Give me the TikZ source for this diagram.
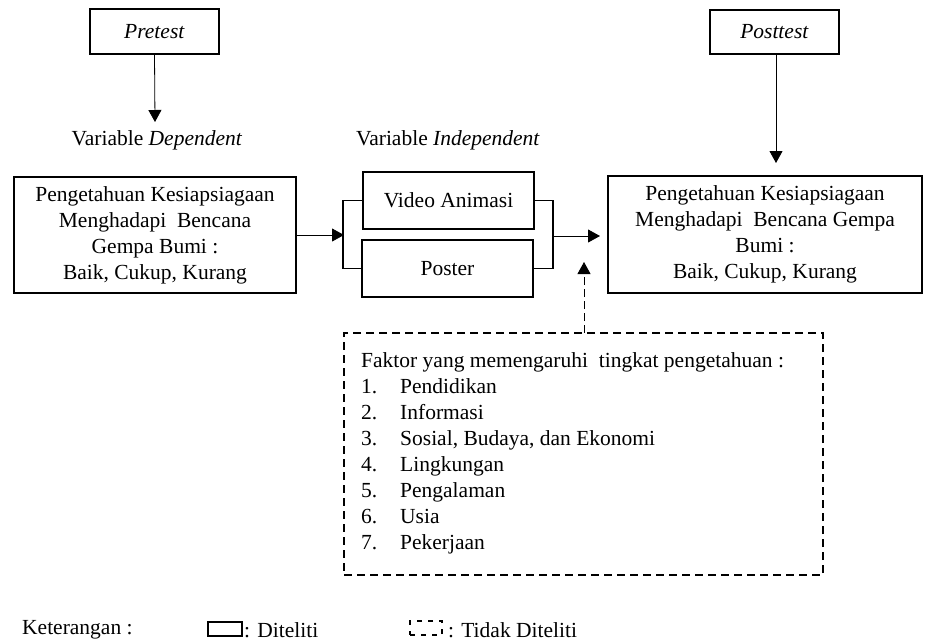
\documentclass[tikz,border=0pt]{standalone}
\usepackage{fontspec}
\setmainfont{Liberation Serif}
\usetikzlibrary{arrows.meta}
\begin{document}
\begin{tikzpicture}[x=1pt,y=-1pt,
  font=\fontsize{21.5}{26}\selectfont,
  box/.style={draw,line width=1.6pt,inner sep=0pt,align=center},
  arr/.style={line width=0.8pt,-{Triangle[length=12pt,width=13pt]}},
  darr/.style={line width=0.9pt,dash pattern=on 8pt off 4pt,-{Triangle[length=12pt,width=13pt]}},
  dbox/.style={draw,line width=1.6pt,dash pattern=on 8pt off 5pt,inner sep=0pt},
  lbl/.style={inner sep=0pt}]
\useasboundingbox (0,0) rectangle (936,641);
% top boxes
\node[box,minimum width=129pt,minimum height=45pt] (pre) at (154.5,31.5) {\textit{Pretest}};
\node[box,minimum width=129pt,minimum height=44pt] (post) at (774.5,32) {\textit{Posttest}};
% labels
\node[lbl] (dep) at (157,140) {Variable \textit{Dependent}};
\node[lbl] (ind) at (448,140) {Variable \textit{Independent}};
% main boxes
\node[box,minimum width=282pt,minimum height=116pt] (left) at (155,235)
  {Pengetahuan Kesiapsiagaan\\Menghadapi\ \ Bencana\\Gempa Bumi :\\Baik, Cukup, Kurang};
\node[box,minimum width=171pt,minimum height=57pt] (video) at (448.5,200.5) {Video Animasi};
\node[box,minimum width=171pt,minimum height=57pt] (poster) at (447.5,268.5) {Poster};
\node[box,minimum width=314pt,minimum height=117pt] (right) at (765,234.5)
  {Pengetahuan Kesiapsiagaan\\Menghadapi\ \ Bencana Gempa\\Bumi :\\Baik, Cukup, Kurang};
% brackets
\draw[line width=1.6pt] (video.west) -- ++(-19,0) |- (poster.west);
\draw[line width=1.6pt] (video.east) -- ++(18,0) |- (poster.east);
% coordinates
\coordinate (depTip) at (155,122);
\coordinate (postTip) at (776,163);
\coordinate (brL) at (344,235);
\coordinate (brR) at (553,236);
\coordinate (rIn) at (600,236);
\coordinate (dTip) at (584,262);
% arrows
\draw[arr] (pre.south) -- (depTip);
\draw[arr] (post.south -| postTip) -- (postTip);
\draw[arr] (left.east) -- (brL);
\draw[arr] (brR) -- (rIn);
% dashed factor box
\node[dbox,minimum width=479pt,minimum height=242pt] (fac) at (583.5,454) {};
\coordinate (facTop) at (584,333);
\draw[darr] (facTop) -- (dTip);
\node[lbl,anchor=north west,align=left] (factxt) at (361,352) {%
Faktor yang memengaruhi\ \ tingkat pengetahuan :\\
\makebox[39pt][l]{1.}Pendidikan\\
\makebox[39pt][l]{2.}Informasi\\
\makebox[39pt][l]{3.}Sosial, Budaya,\ dan Ekonomi\\
\makebox[39pt][l]{4.}Lingkungan\\
\makebox[39pt][l]{5.}Pengalaman\\
\makebox[39pt][l]{6.}Usia\\
\makebox[39pt][l]{7.}Pekerjaan};
% legend
\node[lbl,anchor=west] (ket) at (22,630) {Keterangan :};
\node[draw,line width=1.4pt,minimum width=34pt,minimum height=14pt,inner sep=0pt] (lsolid) at (225,629) {};
\node[lbl,anchor=west] (ldit) at (244,630) {: Diteliti};
\node[draw,line width=1.4pt,dash pattern=on 5pt off 6pt,minimum width=32pt,minimum height=14pt,inner sep=0pt] (ldash) at (426,628) {};
\node[lbl,anchor=west] (ltdk) at (448,630) {: Tidak Diteliti};
\end{tikzpicture}
\end{document}
